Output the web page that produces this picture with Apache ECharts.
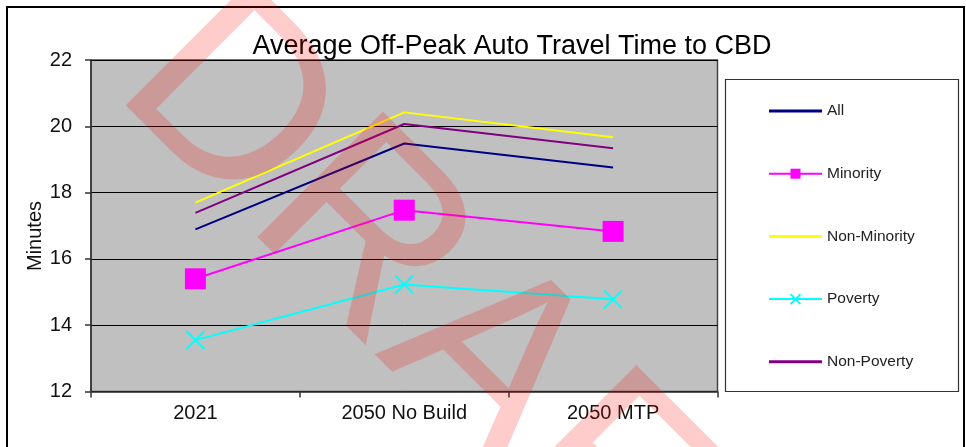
<!DOCTYPE html>
<html>
<head>
<meta charset="utf-8">
<script src="https://cdn.jsdelivr.net/npm/echarts@6/dist/echarts.min.js"></script>
<style>
  html, body { margin: 0; padding: 0; background: #fff; }
  #chart { width: 966px; height: 447px; }
</style>
</head>
<body>
<div id="chart"></div>
<script>
// Scenario categories on the x axis
const categories = ['2021', '2050 No Build', '2050 MTP'];

// Average off-peak auto travel time to CBD (minutes) per group
const allValues         = [16.89, 19.48, 18.76];
const minorityValues    = [15.40, 17.47, 16.83];
const nonMinorityValues = [17.70, 20.42, 19.67];
const povertyValues     = [13.55, 15.23, 14.78];
const nonPovertyValues  = [17.39, 20.07, 19.34];

// Value axis range and step
const yMin = 12;
const yMax = 22;
const yStep = 2;

const FONT = '"Liberation Sans", Arial, sans-serif';

const chart = echarts.init(document.getElementById('chart'), null, { renderer: 'canvas' });

const crossPath = 'path://M0,0L10,10M10,0L0,10';
// plain line swatch for legend entries without markers
const lineIcon = 'path://M0,0H53V3H0Z';

chart.setOption({
  animation: false,
  backgroundColor: '#ffffff',
  textStyle: { fontFamily: FONT },
  grid: {
    left: 91, right: 248.5, top: 60, bottom: 55.5,
    show: true,
    backgroundColor: '#C0C0C0',
    borderColor: '#444',
    borderWidth: 1.5
  },
  legend: {
    orient: 'vertical',
    left: 763,
    top: 98,
    itemWidth: 53,
    itemHeight: 12.5,
    itemGap: 46.7,
    textStyle: { fontFamily: FONT, fontSize: 15.5, lineHeight: 15, color: '#222' },
    data: [
      { name: 'All', icon: lineIcon },
      { name: 'Minority' },
      { name: 'Non-Minority', icon: lineIcon },
      { name: 'Poverty' },
      { name: 'Non-Poverty', icon: lineIcon }
    ]
  },
  xAxis: {
    type: 'category',
    data: categories,
    boundaryGap: true,
    axisLine: { lineStyle: { color: '#333', width: 1.5 } },
    axisTick: { show: true, alignWithLabel: false, length: 6, lineStyle: { color: '#333', width: 1.5 } },
    axisLabel: { fontFamily: FONT, fontSize: 20, color: '#111', margin: 12 },
    splitLine: { show: false }
  },
  yAxis: {
    type: 'value',
    min: yMin,
    max: yMax,
    interval: yStep,
    axisLine: { show: true, lineStyle: { color: '#333', width: 1.5 } },
    axisTick: { show: true, length: 6, lineStyle: { color: '#333', width: 1.5 } },
    axisLabel: { fontFamily: FONT, fontSize: 20, color: '#111', margin: 19 },
    splitLine: { show: true, lineStyle: { color: '#000', width: 1 } }
  },
  series: [
    {
      name: 'All', type: 'line', data: allValues,
      symbol: 'none',
      lineStyle: { color: '#000080', width: 2 },
      itemStyle: { color: '#000080' },
      z: 3
    },
    {
      name: 'Minority', type: 'line', data: minorityValues,
      symbol: 'rect', symbolSize: 21,
      lineStyle: { color: '#FF00FF', width: 2 },
      itemStyle: { color: '#FF00FF' },
      z: 3
    },
    {
      name: 'Non-Minority', type: 'line', data: nonMinorityValues,
      symbol: 'none',
      lineStyle: { color: '#FFFF00', width: 2 },
      itemStyle: { color: '#FFFF00' },
      z: 3
    },
    {
      name: 'Poverty', type: 'line', data: povertyValues,
      symbol: crossPath, symbolSize: 18,
      lineStyle: { color: '#00FFFF', width: 2 },
      itemStyle: { color: 'rgba(0,0,0,0)', borderColor: '#00FFFF', borderWidth: 2 },
      z: 3
    },
    {
      name: 'Non-Poverty', type: 'line', data: nonPovertyValues,
      symbol: 'none',
      lineStyle: { color: '#800080', width: 2 },
      itemStyle: { color: '#800080' },
      z: 3
    }
  ],
  graphic: [
    // outer chart frame
    {
      type: 'rect', z: 0, silent: true,
      shape: { x: 7, y: 7, width: 957, height: 460 },
      style: { fill: null, stroke: '#000', lineWidth: 2 }
    },
    // legend frame
    {
      type: 'rect', z: 0, silent: true,
      shape: { x: 725.5, y: 79.5, width: 233, height: 312 },
      style: { fill: '#fff', stroke: '#333', lineWidth: 1.2 }
    },
    // chart title
    {
      type: 'text', z: 10, silent: true,
      x: 512, y: 47,
      style: {
        text: 'Average Off-Peak Auto Travel Time to CBD',
        fontFamily: FONT, fontSize: 27, fill: '#000',
        align: 'center', verticalAlign: 'middle'
      }
    },
    // y axis title
    {
      type: 'text', z: 10, silent: true,
      x: 35, y: 236, rotation: Math.PI / 2,
      style: {
        text: 'Minutes',
        fontFamily: FONT, fontSize: 20, fill: '#111',
        align: 'center', verticalAlign: 'middle'
      }
    },
    // draft watermark
    {
      type: 'text', z: 100, silent: true,
      x: 465, y: 344, rotation: -45 * Math.PI / 180,
      style: {
        text: 'DRAFT',
        fontFamily: FONT, fontSize: 258, fill: 'rgba(255,0,0,0.2)',
        align: 'center', verticalAlign: 'middle'
      }
    }
  ]
});
</script>
</body>
</html>
